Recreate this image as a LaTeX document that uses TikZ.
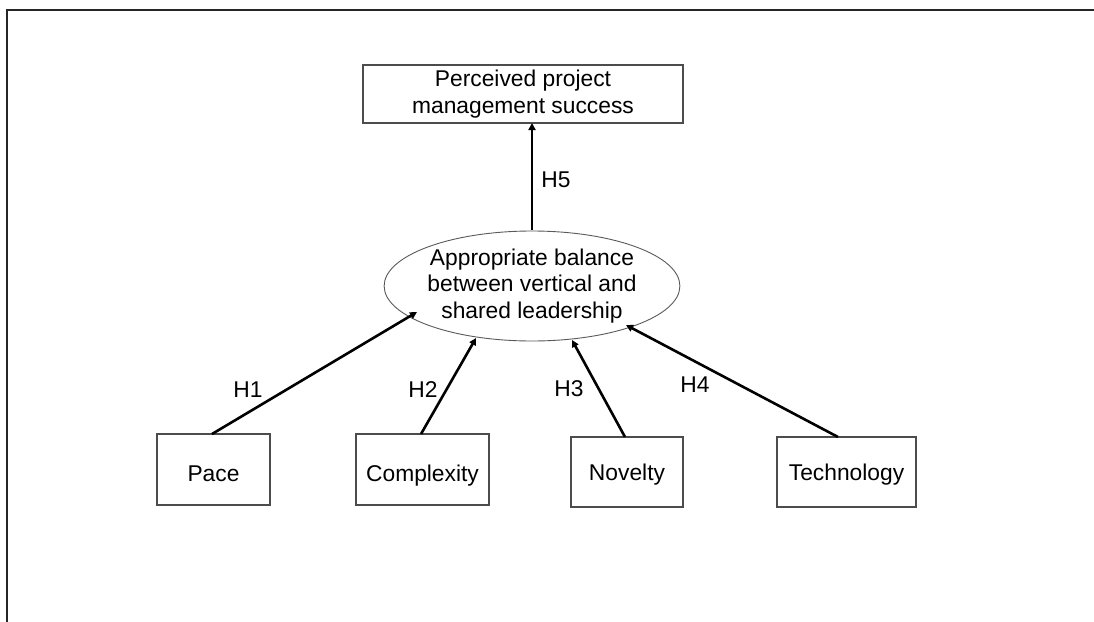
\documentclass[tikz,border=0pt]{standalone}
\usepackage{fontspec}
\setmainfont{Liberation Sans}
\usetikzlibrary{arrows.meta,shapes.geometric}
\tikzset{
  txt/.style={font=\fontsize{22.8}{26.5}\selectfont, align=center, text=black},
  factor/.style={txt, draw=black!70, line width=1.2pt, rectangle, inner sep=0pt},
  single/.style={text height=24pt, text depth=1pt},
  singlelow/.style={text height=21pt, text depth=4pt},
  balance/.style={txt, draw=black!65, line width=0.9pt, ellipse, inner sep=0pt,
                  minimum width=262pt, minimum height=110pt},
  link/.style={line width=2.6pt, black, -{Triangle[length=7pt,width=7pt]}},
  hyp/.style={font=\fontsize{22.8}{26.5}\selectfont, inner sep=0pt},
  frame/.style={line width=2.4pt, black!85}
}
\begin{document}
\begin{tikzpicture}[x=1pt,y=-1pt]
\useasboundingbox (0,0) rectangle (1094,621);
% page frame (top and left edges)
\draw[frame] (7,625) -- (7,10) -- (1100,10);

% outcome
\node[factor, minimum width=320pt, minimum height=58pt] (success) at (523,94)
  {Perceived project\\management success};

% mediator
\node[balance] (bal) at (532,286)
  {Appropriate balance\\between vertical and\\shared leadership};

% antecedents
\node[factor, single, minimum width=113pt, minimum height=71pt] (pace) at (213.5,469.5) {Pace};
\node[factor, single, minimum width=133pt, minimum height=71pt] (cplx) at (422.5,469.5) {Complexity};
\node[factor, singlelow, minimum width=112pt, minimum height=70pt] (nov)  at (627,472) {Novelty};
\node[factor, singlelow, minimum width=139pt, minimum height=70pt] (tech) at (846.5,472) {Technology};

% attachment points
\coordinate (s1) at (212,434);
\coordinate (s2) at (421,434);
\coordinate (s3) at (625,437);
\coordinate (s4) at (838,437);
\coordinate (t1) at (417,312);
\coordinate (t2) at (476,338);
\coordinate (t3) at (572,340);
\coordinate (t4) at (626,325);
\coordinate (s5) at (532,230);
\coordinate (t5) at (532,123);

% hypothesised paths
\draw[link] (s1) -- (t1);
\draw[link] (s2) -- (t2);
\draw[link] (s3) -- (t3);
\draw[link] (s4) -- (t4);
\draw[link] (s5) -- (t5);

% path labels
\node[hyp] (h1) at (248,390) {H1};
\node[hyp] (h2) at (423,390) {H2};
\node[hyp] (h3) at (569,389) {H3};
\node[hyp] (h4) at (695,385) {H4};
\node[hyp] (h5) at (556,180) {H5};
\end{tikzpicture}
\end{document}
